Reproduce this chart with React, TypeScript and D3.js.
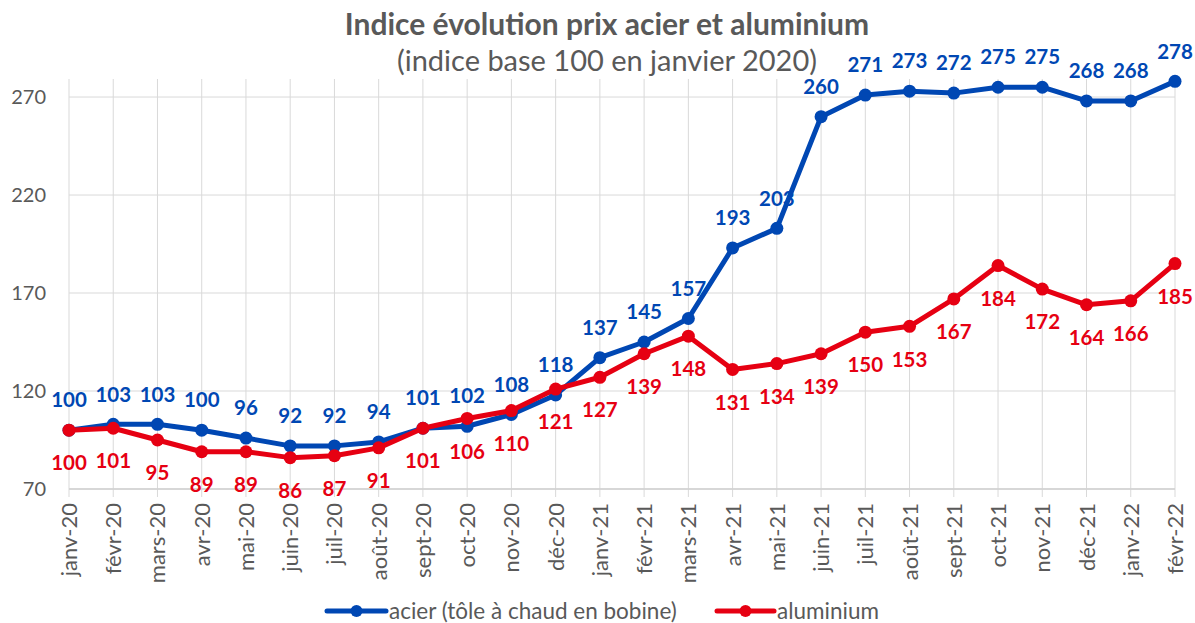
import React from 'react';
import * as d3 from 'd3';

const months = [
  'janv-20', 'févr-20', 'mars-20', 'avr-20', 'mai-20', 'juin-20', 'juil-20', 'août-20', 'sept-20',
  'oct-20', 'nov-20', 'déc-20', 'janv-21', 'févr-21', 'mars-21', 'avr-21', 'mai-21', 'juin-21',
  'juil-21', 'août-21', 'sept-21', 'oct-21', 'nov-21', 'déc-21', 'janv-22', 'févr-22',
];
const acier = [100, 103, 103, 100, 96, 92, 92, 94, 101, 102, 108, 118, 137, 145, 157, 193, 203, 260, 271, 273, 272, 275, 275, 268, 268, 278];
const aluminium = [100, 101, 95, 89, 89, 86, 87, 91, 101, 106, 110, 121, 127, 139, 148, 131, 134, 139, 150, 153, 167, 184, 172, 164, 166, 185];
const yTicks = [70, 120, 170, 220, 270];

const BLUE = '#0047b3';
const RED = '#e60012';
const FONT = 'Lato, "Open Sans", sans-serif';

export default function App() {
  const W = 1195, H = 623;
  const x = d3.scalePoint<string>().domain(months).range([69, 1175]);
  const y = d3.scaleLinear().domain([70, 279.2]).range([489, 79]);
  const line = d3.line<number>().x((_, i) => x(months[i])!).y(d => y(d));

  const series = [
    { name: 'acier (tôle à chaud en bobine)', values: acier, color: BLUE, dy: -30, lx: 327, lw: 59 },
    { name: 'aluminium', values: aluminium, color: RED, dy: 33, lx: 717, lw: 57 },
  ];

  return (
    <svg width={W} height={H} style={{ position: 'absolute', left: 0, top: 0, background: '#fff' }}>
      <text x={607} y={35} textAnchor="middle" fontFamily={FONT} fontWeight="bold" fontSize={30} fill="#595959">
        Indice évolution prix acier et aluminium
      </text>
      <text x={607} y={71} textAnchor="middle" fontFamily={FONT} fontSize={29} fill="#595959">
        (indice base 100 en janvier 2020)
      </text>

      {yTicks.map(t => (
        <g key={t}>
          <line x1={69} x2={1175} y1={y(t)} y2={y(t)} stroke="#d9d9d9" strokeWidth={1} />
          <text x={46} y={y(t)} dy="0.35em" textAnchor="end" fontFamily={FONT} fontSize={20} fill="#595959">{t}</text>
        </g>
      ))}
      {months.map(m => (
        <g key={m}>
          <line x1={x(m)} x2={x(m)} y1={79} y2={497} stroke="#d9d9d9" strokeWidth={1} />
          <text transform={`translate(${x(m)! + 8},503) rotate(-90)`} textAnchor="end" fontFamily={FONT} fontSize={22} fill="#595959">{m}</text>
        </g>
      ))}
      <line x1={69} x2={1175} y1={489} y2={489} stroke="#d0d0d0" strokeWidth={1.5} />

      {series.map(s => (
        <g key={s.name}>
          <path d={line(s.values) ?? ''} fill="none" stroke={s.color} strokeWidth={5} strokeLinejoin="round" />
          {s.values.map((v, i) => (
            <circle key={i} cx={x(months[i])} cy={y(v)} r={6.5} fill={s.color} />
          ))}
        </g>
      ))}
      {series.map(s => (
        <g key={s.name + '-labels'}>
          {s.values.map((v, i) => (
            <text key={i} x={x(months[i])} y={y(v) + s.dy} dy="0.35em" textAnchor="middle" fontFamily={FONT} fontWeight="bold" fontSize={20.5} fill={s.color}>{v}</text>
          ))}
        </g>
      ))}

      {series.map(s => (
        <g key={s.name + '-legend'}>
          <line x1={s.lx} x2={s.lx + s.lw} y1={611} y2={611} stroke={s.color} strokeWidth={5} strokeLinecap="round" />
          <circle cx={s.lx + s.lw / 2} cy={611} r={6} fill={s.color} />
          <text x={s.lx + s.lw + 3} y={611} dy="0.35em" fontFamily={FONT} fontSize={22.5} fill="#595959">{s.name}</text>
        </g>
      ))}
    </svg>
  );
}
